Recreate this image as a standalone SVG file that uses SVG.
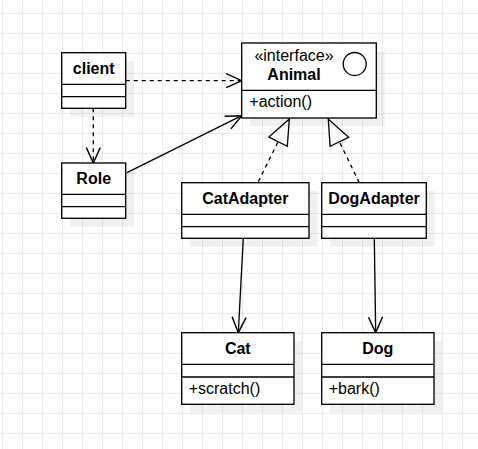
<svg xmlns="http://www.w3.org/2000/svg" width="478" height="449" viewBox="0 0 478 449">
<style>
.box{fill:#fff;stroke:#000;stroke-width:1.33}
.sh{fill:#000;opacity:0.06}
.sep{stroke:#000;stroke-width:1.33;fill:none}
.t{font-family:"Liberation Sans",Arial,sans-serif;font-size:16px;fill:#000}
.b{font-weight:bold;text-anchor:middle}
.m{text-anchor:middle}
.ln{stroke:#000;stroke-width:1.33;fill:none}
.dash{stroke-dasharray:4 4}
</style>
<defs>
<pattern id="grid" width="20" height="20" patternUnits="userSpaceOnUse">
<path d="M2.5 0V20M0 13.5H20" stroke="#ebebeb" stroke-width="1" fill="none"/>
</pattern>
<marker id="open" markerWidth="20" markerHeight="20" viewBox="-16 -8 18 16" refX="0" refY="0" orient="auto" markerUnits="userSpaceOnUse">
<path d="M-14,-6.3L0,0L-14,6.3" fill="none" stroke="#000" stroke-width="1.33"/>
</marker>
<marker id="tri" markerWidth="32" markerHeight="26" viewBox="-28 -13 30 26" refX="0" refY="0" orient="auto" markerUnits="userSpaceOnUse">
<path d="M0,0L-25.3,-10.3L-25.3,10.3Z" fill="#fff" stroke="#000" stroke-width="1.33"/>
</marker>
</defs>
<rect width="478" height="449" fill="#fff"/>
<rect width="478" height="449" fill="url(#grid)"/>

<g id="connectors">
<path class="ln dash" d="M125.7,80.7H241.7" marker-end="url(#open)"/>
<path class="ln dash" d="M93.3,108.3V163" marker-end="url(#open)"/>
<path class="ln" d="M127,172.7L241.7,115.7" marker-end="url(#open)"/>
<path class="ln dash" d="M258.3,181.7L289.3,119" marker-end="url(#tri)"/>
<path class="ln dash" d="M359.3,182.7L328.3,119" marker-end="url(#tri)"/>
<path class="ln" d="M243.3,238.3L238.3,332.7" marker-end="url(#open)"/>
<path class="ln" d="M374.3,238.3L375.7,332.7" marker-end="url(#open)"/>
</g>

<g id="client">
<rect class="sh" x="70" y="61" width="64" height="55.6"/>
<rect class="box" x="61.7" y="52.7" width="64" height="55.6"/>
<path class="sep" d="M61.7,84.3H125.7M61.7,96.7H125.7"/>
<text class="t b" x="93.7" y="74">client</text>
</g>

<g id="role">
<rect class="sh" x="70" y="171.3" width="64" height="55.3"/>
<rect class="box" x="61.7" y="163" width="64" height="55.3"/>
<path class="sep" d="M61.7,194.3H125.7M61.7,206.7H125.7"/>
<text class="t b" x="93.7" y="184">Role</text>
</g>

<g id="animal">
<rect class="sh" x="250" y="51.3" width="134.6" height="75"/>
<rect class="box" x="241.7" y="43" width="134.6" height="75"/>
<path class="sep" d="M241.7,90.3H376.3"/>
<text class="t m" x="294" y="61">«interface»</text>
<text class="t b" x="294" y="80">Animal</text>
<circle cx="354.7" cy="64" r="11.5" fill="#fff" stroke="#000" stroke-width="1.33"/>
<text class="t" x="249.3" y="107">+action()</text>
</g>

<g id="catadapter">
<rect class="sh" x="190" y="191" width="127.3" height="55.6"/>
<rect class="box" x="181.7" y="182.7" width="127.3" height="55.6"/>
<path class="sep" d="M181.7,214.3H309M181.7,226.7H309"/>
<text class="t b" x="245.3" y="204">CatAdapter</text>
</g>

<g id="dogadapter">
<rect class="sh" x="330" y="191" width="104.6" height="55.6"/>
<rect class="box" x="321.7" y="182.7" width="104.6" height="55.6"/>
<path class="sep" d="M321.7,214.3H426.3M321.7,226.7H426.3"/>
<text class="t b" x="374" y="204">DogAdapter</text>
</g>

<g id="cat">
<rect class="sh" x="190" y="341" width="112.3" height="71.6"/>
<rect class="box" x="181.7" y="332.7" width="112.3" height="71.6"/>
<path class="sep" d="M181.7,364.3H294M181.7,377H294"/>
<text class="t b" x="237.8" y="354">Cat</text>
<text class="t" x="188.7" y="394">+scratch()</text>
</g>

<g id="dog">
<rect class="sh" x="330" y="341" width="112.3" height="71.6"/>
<rect class="box" x="321.7" y="332.7" width="112.3" height="71.6"/>
<path class="sep" d="M321.7,364.3H434M321.7,377H434"/>
<text class="t b" x="377.8" y="354">Dog</text>
<text class="t" x="328.7" y="394">+bark()</text>
</g>
</svg>
